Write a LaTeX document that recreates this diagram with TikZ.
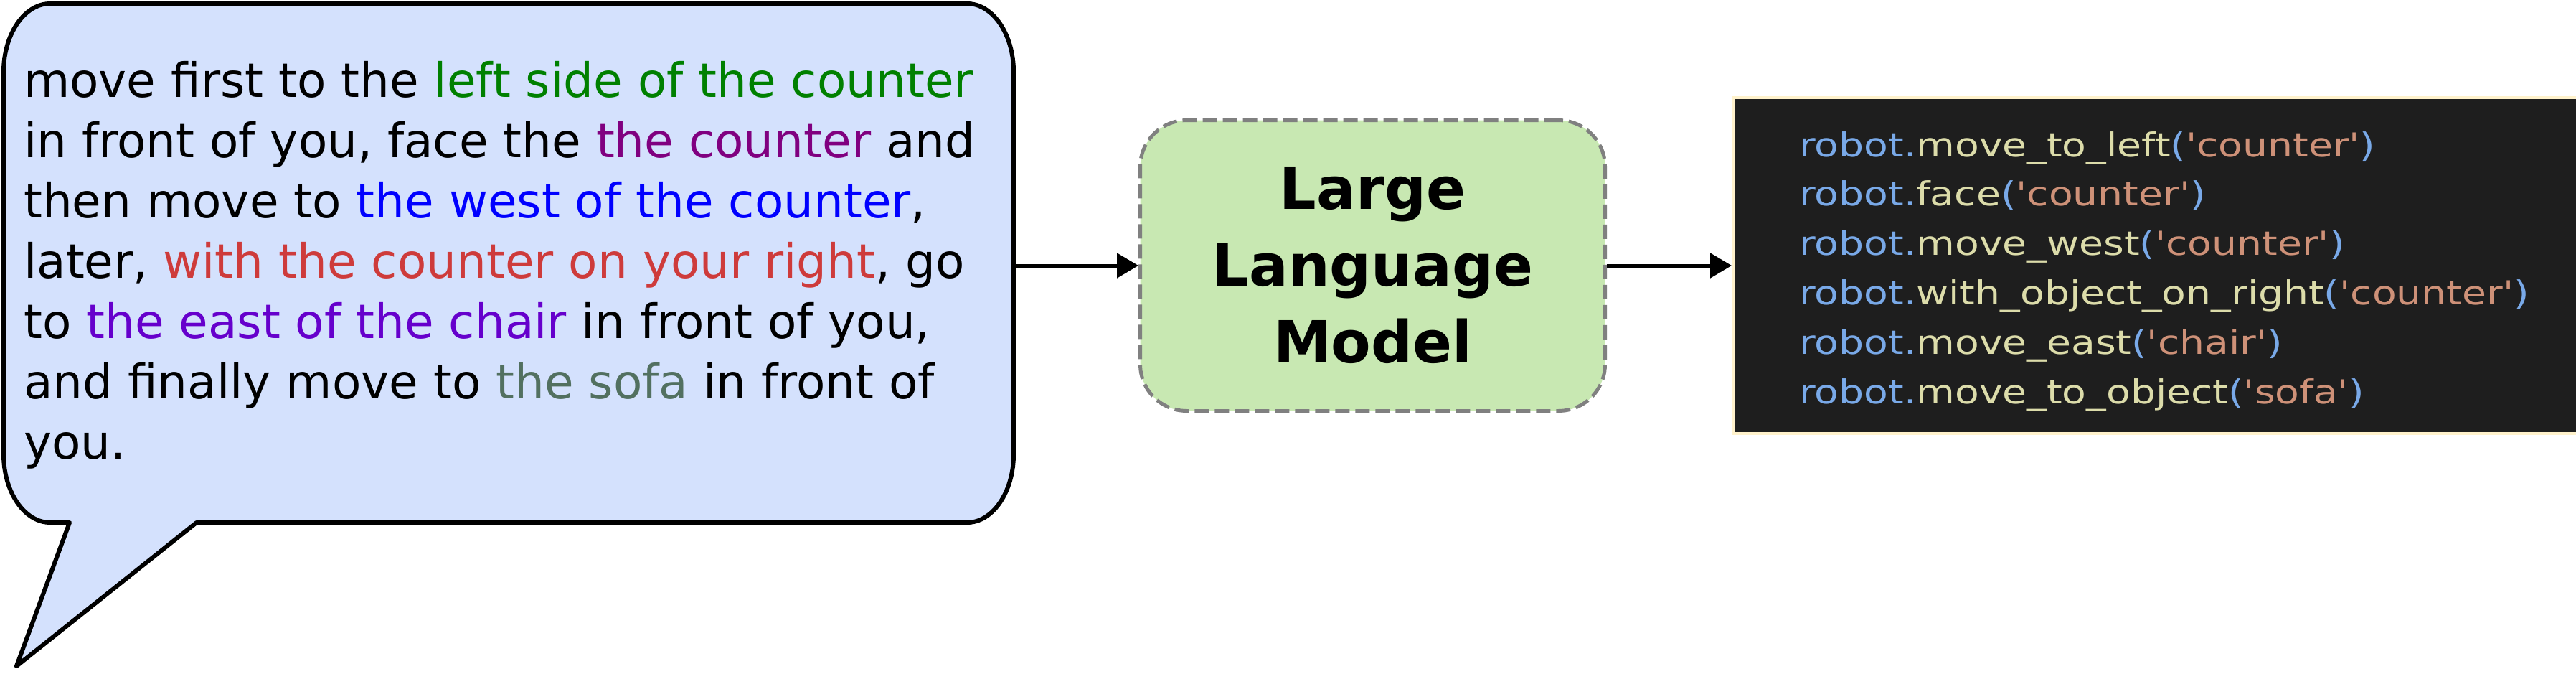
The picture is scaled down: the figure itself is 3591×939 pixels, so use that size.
\documentclass[tikz,border=0pt]{standalone}
\usepackage{fontspec}
\setmainfont{DejaVu Sans}
\newfontfamily\codefont{DejaVu Sans}[FakeStretch=1.2]
\usetikzlibrary{arrows.meta,positioning}

\definecolor{bubblefill}{HTML}{D4E1FD}
\definecolor{llmfill}{HTML}{C8E8B2}
\definecolor{llmline}{HTML}{808080}
\definecolor{codebg}{HTML}{1E1E1E}
\definecolor{codeframe}{HTML}{FFF2CC}
\definecolor{kwblue}{HTML}{79A9E8}
\definecolor{fnyellow}{HTML}{DCDCAA}
\definecolor{strbrown}{HTML}{CE9178}
\definecolor{cgreen}{HTML}{008000}
\definecolor{cpurple}{HTML}{800080}
\definecolor{cblue}{HTML}{0000FF}
\definecolor{cred}{HTML}{CE3B3B}
\definecolor{cviolet}{HTML}{6600CC}
\definecolor{cgray}{HTML}{527060}

\newcommand{\rcall}[2]{\textcolor{kwblue}{robot.}\textcolor{fnyellow}{#1}\textcolor{kwblue}{(}\textcolor{strbrown}{'#2'}\textcolor{kwblue}{)}}

\begin{document}
\begin{tikzpicture}[
  x=1pt, y=-1pt,
  >=Latex,
  node distance=174pt,
  every node/.style={inner sep=0pt},
  bubbleline/.style={draw=black, fill=bubblefill, line width=6pt, line join=round},
  prompttext/.style={align=left, anchor=north west, font=\fontsize{66}{84}\selectfont},
  llmbox/.style={draw=llmline, fill=llmfill, dash pattern=on 20pt off 8pt, line width=5pt,
    rounded corners=65pt, minimum width=648pt, minimum height=405pt, align=center,
    font=\bfseries\fontsize{81}{107}\selectfont},
  codebox/.style={draw=codeframe, fill=codebg, line width=4pt, minimum width=1179pt, minimum height=468pt},
  codetext/.style={align=left, anchor=west, font=\codefont\fontsize{46}{68.8}\selectfont},
  flowedge/.style={-{Triangle[length=30pt,width=34pt]}, line width=5pt}
]
\useasboundingbox (0,0) rectangle (3591,939);

% --- Speech bubble with the instruction
\draw[bubbleline] (5,100) arc[start angle=180, end angle=270, x radius=65, y radius=95]
  -- (1348,5) arc[start angle=270, end angle=360, x radius=65, y radius=95]
  -- (1413,633) arc[start angle=0, end angle=90, x radius=65, y radius=95]
  -- (274,728) -- (23,928) -- (97,728)
  -- (70,728) arc[start angle=90, end angle=180, x radius=65, y radius=95] -- cycle;
\node[prompttext] (prompt) at (33,85) {%
  move first to the \textcolor{cgreen}{left side of the counter}\\
  in front of you, face the \textcolor{cpurple}{the counter} and\\
  then move to \textcolor{cblue}{the west of the counter},\\
  later, \textcolor{cred}{with the counter on your right}, go\\
  to \textcolor{cviolet}{the east of the chair} in front of you,\\
  and finally move to \textcolor{cgray}{the sofa} in front of\\
  you.};
\coordinate (bubbleeast) at (1413,370);

% --- Model and generated code
\node[llmbox, right=of bubbleeast] (llm) {Large\\Language\\Model};
\node[codebox, right=of llm] (code) {};
\node[codetext] (codelines) at ([xshift=94pt,yshift=-8pt]code.west) {%
  \rcall{move\_to\_left}{counter}\\
  \rcall{face}{counter}\\
  \rcall{move\_west}{counter}\\
  \rcall{with\_object\_on\_right}{counter}\\
  \rcall{move\_east}{chair}\\
  \rcall{move\_to\_object}{sofa}};

% --- Edges
\draw[flowedge] (bubbleeast) -- (llm);
\draw[flowedge] (llm) -- (code);

\end{tikzpicture}
\end{document}
